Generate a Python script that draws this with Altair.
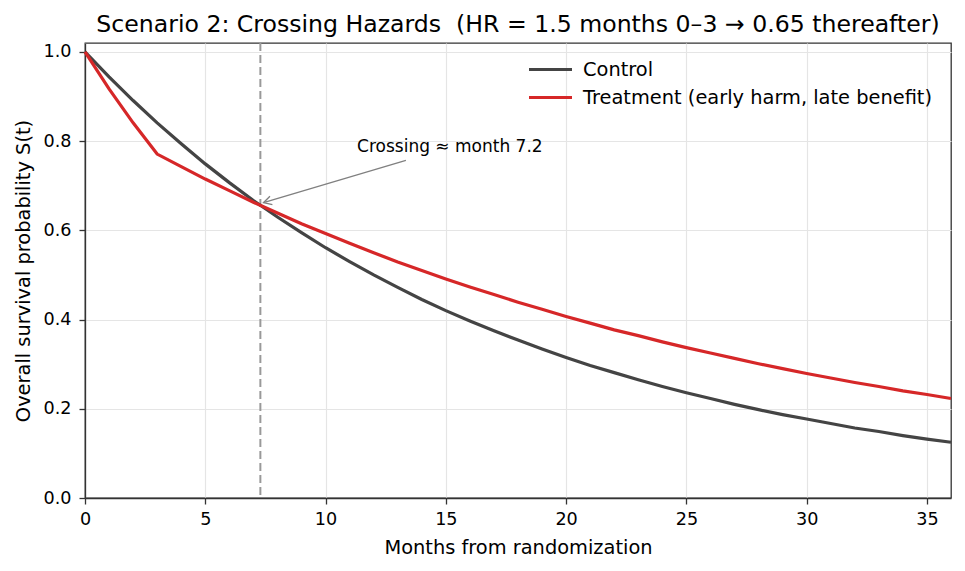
import altair as alt
import pandas as pd

# survival values, one point per month
months = list(range(0, 37))
control_surv = [1.000, 0.944, 0.891, 0.841, 0.794, 0.749, 0.707, 0.667, 0.630, 0.595,
                0.561, 0.530, 0.500, 0.472, 0.445, 0.420, 0.397, 0.375, 0.354, 0.334,
                0.315, 0.297, 0.281, 0.265, 0.250, 0.236, 0.223, 0.210, 0.198, 0.187,
                0.177, 0.167, 0.157, 0.149, 0.140, 0.132, 0.125]
treatment_surv = [1.000, 0.917, 0.841, 0.771, 0.743, 0.715, 0.689, 0.663, 0.639, 0.615,
                  0.593, 0.571, 0.550, 0.529, 0.510, 0.491, 0.473, 0.456, 0.439, 0.423,
                  0.407, 0.392, 0.377, 0.364, 0.350, 0.337, 0.325, 0.313, 0.301, 0.290,
                  0.279, 0.269, 0.259, 0.250, 0.240, 0.232, 0.223]
series_names = ["Control", "Treatment (early harm, late benefit)"]
series_colors = ["#444444", "#d62728"]
crossing_month = 7.29
x_ticks = [0, 5, 10, 15, 20, 25, 30, 35]
y_ticks = [0.0, 0.2, 0.4, 0.6, 0.8, 1.0]

# annotation: label anchor and arrow (tail -> head), data units
note_text = "Crossing ≈ month 7.2"
note_xy = (11.31, 0.775)
arrow_tail = (13.34, 0.757)
arrow_head = (7.42, 0.662)

FONT = "DejaVu Sans"

df = pd.concat([
    pd.DataFrame({"month": months, "surv": control_surv, "series": series_names[0]}),
    pd.DataFrame({"month": months, "surv": treatment_surv, "series": series_names[1]}),
])

x_scale = alt.Scale(domain=[0, 36], nice=False, zero=False)
y_scale = alt.Scale(domain=[0, 1.02], nice=False)

# long legend stroke drawn from a small symbol size so rows stay tight
lines = alt.Chart(df).mark_line(strokeWidth=3.2).encode(
    alt.X("month:Q", scale=x_scale,
          axis=alt.Axis(title="Months from randomization", values=x_ticks, format="d",
                        labelFlush=False, titleY=55, titleBaseline="alphabetic")),
    alt.Y("surv:Q", scale=y_scale,
          axis=alt.Axis(title="Overall survival probability S(t)", values=y_ticks, format=".1f",
                        labelFlush=False, titleX=-56, titleBaseline="alphabetic")),
    alt.Color("series:N", scale=alt.Scale(domain=series_names, range=series_colors),
              legend=alt.Legend(title=None, orient="none", legendX=453, legendY=14,
                                symbolType="M-2,0H2", symbolSize=462, symbolStrokeWidth=3,
                                labelFontSize=19.4, labelOffset=20, labelFont=FONT,
                                labelColor="#000000", labelLimit=0, rowPadding=6, padding=0)),
)

vline = alt.Chart(pd.DataFrame({"month": [crossing_month]})).mark_rule(
    color="#999999", strokeWidth=2, strokeDash=[8, 4]
).encode(x=alt.X("month:Q", scale=x_scale))

arrow_df = pd.DataFrame({"x": [arrow_tail[0]], "y": [arrow_tail[1]],
                         "x2": [arrow_head[0]], "y2": [arrow_head[1]]})
arrow_line = alt.Chart(arrow_df).mark_rule(color="#808080", strokeWidth=1.3).encode(
    x=alt.X("x:Q", scale=x_scale), y=alt.Y("y:Q", scale=y_scale), x2="x2:Q", y2="y2:Q"
)
arrow_tip = alt.Chart(arrow_df).mark_point(
    shape="M-1,-0.55L0,0L-1,0.55", size=256, angle=163.8, filled=False,
    color="#808080", strokeWidth=1.3, opacity=1
).encode(x=alt.X("x2:Q", scale=x_scale), y=alt.Y("y2:Q", scale=y_scale))

note = alt.Chart(pd.DataFrame({"x": [note_xy[0]], "y": [note_xy[1]], "t": [note_text]})).mark_text(
    align="left", baseline="alphabetic", fontSize=17, font=FONT, color="#000000"
).encode(x=alt.X("x:Q", scale=x_scale), y=alt.Y("y:Q", scale=y_scale), text="t:N")

chart = alt.layer(vline, lines, arrow_line, arrow_tip, note).properties(
    width=866, height=455,
    title="Scenario 2: Crossing Hazards \u00a0(HR = 1.5 months 0–3 → 0.65 thereafter)",
    autosize=alt.AutoSizeParams(type="none"),
    padding={"left": 77, "top": 35, "right": 6, "bottom": 65},
).configure_view(
    stroke="#333333", strokeWidth=1.3
).configure_axis(
    domain=True, domainColor="#333333", domainWidth=1.3,
    grid=True, gridColor="#e5e5e5", gridWidth=1.2,
    ticks=True, tickColor="#333333", tickSize=6, tickWidth=1.3,
    labelFont=FONT, labelFontSize=17.6, labelColor="#000000", labelPadding=6,
    titleFont=FONT, titleFontSize=19.4, titleFontWeight="normal", titleColor="#000000",
).configure_axisY(labelPadding=8).configure_title(
    font=FONT, fontSize=23.6, fontWeight="normal", color="#000000",
    anchor="middle", baseline="alphabetic", offset=5,
)

chart.save("out.html", embed_options={"renderer": "svg", "actions": False})
